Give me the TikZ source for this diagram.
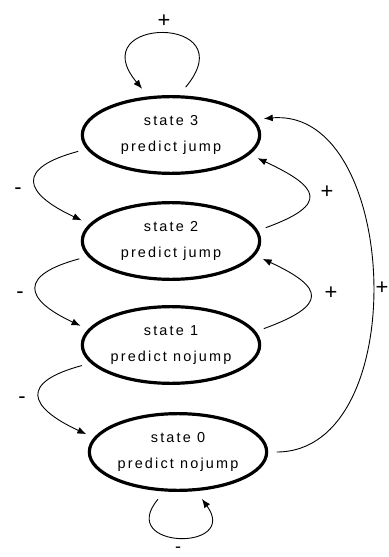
\documentclass[tikz,border=0pt]{standalone}
\usepackage{fontspec}
\setmainfont{Liberation Sans}
\newfontfamily\statefont[LetterSpace=15]{Liberation Sans}
\usepackage{tikz}
\usetikzlibrary{arrows.meta}
\usetikzlibrary{shapes.geometric}
\tikzset{>={Latex[length=9,width=7]}}

\begin{document}
\begin{tikzpicture}[x=1bp,y=-1bp,
        stateellipse/.style={ellipse,draw,line width=3.2,minimum width=178,minimum height=77,
            inner sep=0,outer sep=10,align=center,font=\statefont\fontsize{14.5}{27}\selectfont},
        trans/.style={->,line width=0.9},
        sign/.style={font=\fontsize{22}{22}\selectfont,inner sep=0}]

        % FRAME
        \useasboundingbox (0,0) rectangle (388,557);
        \clip (0,0) rectangle (388,557);

        % STATES
        \node[stateellipse] (S3) at (171,135) {state 3\\predict jump};
        \node[stateellipse] (S2) at (171,241) {state 2\\predict jump};
        \node[stateellipse] (S1) at (171,345) {state 1\\predict nojump};
        \node[stateellipse] (S0) at (178,452) {state 0\\predict nojump};

        % SELF LOOPS
        \draw[trans] (S3.73) to[out=50,in=130,looseness=5.6] (S3.122);
        \draw[trans] (S0.247) to[out=230,in=306,looseness=3.8] (S0.297);

        % DOWN (-)
        \draw[trans] (S3.190) to[out=195,in=155,looseness=2.4] (S2.167);
        \draw[trans] (S2.191) to[out=195,in=155,looseness=2.4] (S1.168);
        \draw[trans] (S1.193) to[out=195,in=155,looseness=2.4] (S0.169);

        % UP (+)
        \draw[trans] (S2.8) to[out=20,in=335,looseness=2.5] (S3.345);
        \draw[trans] (S1.10) to[out=20,in=335,looseness=2.5] (S2.349);
        \draw[trans] (S0.0) to[out=0,in=5,looseness=1.05] (S3.10);

        % SIGNS
        \node[sign] (L33) at (164,21) {+};
        \node[sign,font=\fontsize{18}{18}\selectfont] (L00) at (178,550) {-};
        \node[sign] (L32) at (18,191) {-};
        \node[sign] (L21) at (20,295) {-};
        \node[sign] (L10) at (22,400) {-};
        \node[sign] (L23) at (327,192) {+};
        \node[sign] (L12) at (331,293) {+};
        \node[sign] (L03) at (382,288) {+};

    \end{tikzpicture}
\end{document}
